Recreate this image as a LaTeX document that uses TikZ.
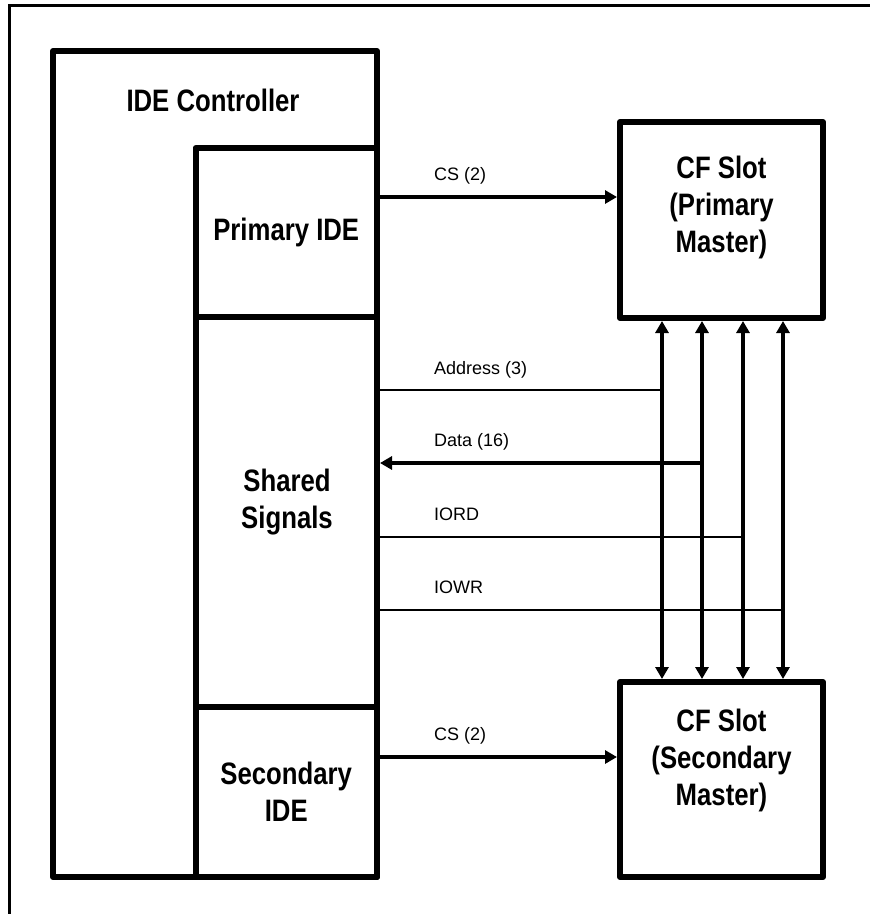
\documentclass[tikz,border=0pt]{standalone}
\usepackage{fontspec}
\setmainfont{Liberation Sans}
\newfontfamily\narrowsans{Liberation Sans}[FakeStretch=0.83]
\usetikzlibrary{positioning,arrows.meta}

\begin{document}
\begin{tikzpicture}[x=1pt, y=-1pt,
  box/.style={draw, line width=6pt, line join=round, inner sep=0pt},
  title/.style={font=\narrowsans\bfseries\fontsize{31}{37}\selectfont, align=center, inner sep=0pt},
  sig/.style={font=\fontsize{18}{21}\selectfont, anchor=base west, inner sep=0pt},
  wire/.style={line width=2pt},
  sigarrow/.style={line width=3.5pt, -{Triangle[length=12pt,width=13pt]}},
  bus/.style={line width=3.5pt, {Triangle[length=12pt,width=13pt]}-{Triangle[length=12pt,width=13pt]}}]
\useasboundingbox (0,0) rectangle (870,914);
% frame
\draw[line width=3pt] (870,5.5) -- (9.5,5.5) -- (9.5,914);
% controller
\node[box, minimum width=324pt, minimum height=826pt] (ctrl) at (215,464) {};
\node[title] (ctrltxt) at (213,100) {IDE Controller};
\node[box, title, minimum width=181.5pt, minimum height=169pt] (prim) at (286.25,232.5) {Primary IDE};
\node[box, title, minimum width=181.5pt, minimum height=390pt] (shrd) at (286.25,512) {};
\node[title] (shrdtxt) at (287,502) {Shared\\Signals};
\node[box, title, minimum width=181.5pt, minimum height=170pt] (sec) at (286.25,792) {Secondary\\IDE};
% slots
\node[box, minimum width=203pt, minimum height=196pt] (cfp) at (721.5,220) {};
\node[title] (cfptxt) at (721.5,207) {CF Slot\\(Primary\\Master)};
\node[box, minimum width=203pt, minimum height=195pt] (cfs) at (721.5,779.5) {};
\node[title] (cfstxt) at (721.5,760) {CF Slot\\(Secondary\\Master)};

% bus taps
\coordinate (b1) at (662,390);
\coordinate (b2) at (702,463);
\coordinate (b3) at (743,537);
\coordinate (b4) at (783,610);
\coordinate (cs1) at (500,197);
\coordinate (cs2) at (500,757);

\draw[bus] (b1 |- cfp.south) -- (b1 |- cfs.north);
\draw[bus] (b2 |- cfp.south) -- (b2 |- cfs.north);
\draw[bus] (b3 |- cfp.south) -- (b3 |- cfs.north);
\draw[bus] (b4 |- cfp.south) -- (b4 |- cfs.north);

\draw[wire] (b1) -- (b1 -| shrd.east);
\draw[sigarrow] (b2) -- (b2 -| shrd.east);
\draw[wire] (b3) -- (b3 -| shrd.east);
\draw[wire] (b4) -- (b4 -| shrd.east);
\draw[sigarrow] (cs1 -| prim.east) -- (cs1 -| cfp.west);
\draw[sigarrow] (cs2 -| sec.east) -- (cs2 -| cfs.west);

% labels
\node[sig] (lcs1) at (434,180) {CS (2)};
\node[sig] (ladr) at (434,374) {Address (3)};
\node[sig] (ldat) at (434,446) {Data (16)};
\node[sig] (lrd) at (434,520) {IORD};
\node[sig] (lwr) at (434,593) {IOWR};
\node[sig] (lcs2) at (434,740) {CS (2)};
\end{tikzpicture}
\end{document}
